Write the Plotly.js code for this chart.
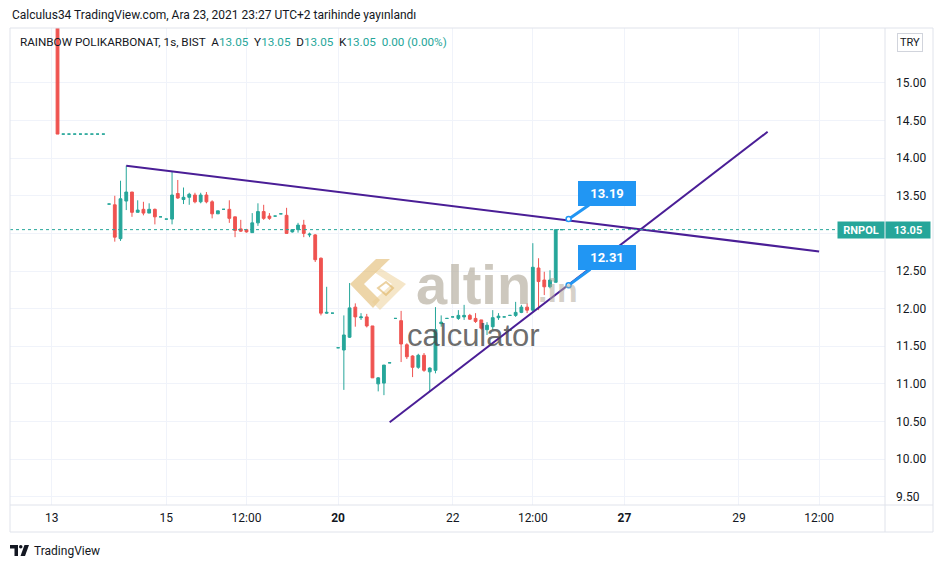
<!DOCTYPE html>
<html><head><meta charset="utf-8">
<script src="https://cdn.plot.ly/plotly-3.0.1.min.js"></script>
<style>html,body{margin:0;padding:0;background:#fff;}#chart{width:945px;height:568px;}</style>
</head><body><div id="chart"></div>
<script>
// ---- data (hourly bars, index = bar number, 10 bars per trading day) ----
const barOpen  = [null,15.91,14.32,14.32,14.32,14.32,14.32,14.32,14.32,14.32,
  13.39,13.38,12.93,13.43,13.55,13.28,13.32,13.27,13.32,13.22,
  13.19,13.19,13.53,13.45,13.48,13.51,13.42,13.51,13.42,13.26,
  13.32,13.32,13.22,13.06,13.05,13.01,13.14,13.29,13.23,13.23,
  13.26,13.24,13.02,13.05,13.11,12.98,12.98,12.67,11.94,11.94,
  11.48,11.45,11.62,12.02,11.88,11.89,11.77,11.00,11.01,11.28,
  11.87,11.84,11.52,11.37,11.22,11.38,11.16,11.18,11.80,11.87,
  11.89,11.87,11.89,11.91,11.87,11.85,11.72,11.76,11.88,11.89,
  11.91,11.91,11.95,12.02,11.98,12.54,12.38,12.29,12.35,13.05];
const barHigh  = [null,15.91,14.32,14.32,14.32,14.32,14.32,14.32,14.32,14.32,
  13.39,13.50,13.70,13.90,13.55,13.44,13.42,13.40,13.33,13.22,
  13.19,13.82,13.71,13.61,13.54,13.54,13.54,13.55,13.44,13.30,
  13.32,13.44,13.22,13.18,13.06,13.27,13.40,13.38,13.27,13.23,
  13.26,13.34,13.05,13.14,13.18,13.01,12.99,12.68,12.29,11.94,
  11.48,11.91,12.34,12.07,11.94,11.93,11.77,11.09,11.25,11.28,
  11.87,11.97,11.54,11.38,11.40,11.41,11.22,12.02,11.91,11.87,
  11.89,11.98,12.05,11.93,11.94,11.85,11.82,11.98,11.94,11.89,
  11.91,12.09,12.05,12.07,12.87,12.67,12.49,12.51,13.05,13.05];
const barLow   = [null,14.32,14.32,14.32,14.32,14.32,14.32,14.32,14.32,14.32,
  13.39,12.89,12.90,13.31,13.22,13.28,13.24,13.27,13.12,13.22,
  13.19,13.12,13.46,13.39,13.38,13.40,13.40,13.40,13.20,13.26,
  13.32,13.14,12.95,13.02,13.01,13.01,13.10,13.18,13.18,13.23,
  13.26,13.00,13.01,13.01,12.95,12.95,12.62,11.91,11.93,11.94,
  11.48,10.92,11.61,11.76,11.85,11.75,11.08,10.90,10.85,11.28,
  11.87,11.29,11.33,11.09,11.20,11.16,10.90,11.14,11.76,11.87,
  11.89,11.85,11.85,11.85,11.81,11.72,11.65,11.72,11.85,11.89,
  11.91,11.89,11.94,11.94,11.95,11.98,12.18,12.27,12.35,13.05];
const barClose = [null,14.32,14.32,14.32,14.32,14.32,14.32,14.32,14.32,14.32,
  13.39,12.95,13.46,13.55,13.28,13.31,13.27,13.32,13.22,13.22,
  13.19,13.51,13.47,13.48,13.52,13.42,13.51,13.42,13.26,13.30,
  13.32,13.20,13.04,13.03,13.02,13.14,13.29,13.20,13.20,13.23,
  13.26,13.00,13.05,13.11,13.00,12.99,12.65,11.94,11.95,11.94,
  11.48,11.65,12.01,11.89,11.89,11.77,11.08,11.08,11.25,11.28,
  11.87,11.53,11.36,11.22,11.38,11.18,11.21,11.72,11.82,11.87,
  11.89,11.91,11.91,11.86,11.83,11.74,11.78,11.88,11.90,11.89,
  11.91,11.95,12.02,11.98,12.55,12.36,12.29,12.38,13.05,13.05];
const tickPositions = [0,20,34,50,70,84,100,120,134];
const tickLabels = ['13','15','12:00','<b>20</b>','22','12:00','<b>27</b>','29','12:00'];
const priceTicks = [9.5,10,10.5,11,11.5,12,12.5,13,13.5,14,14.5,15];
const resistanceX = [13,134], resistanceY = [13.90,12.76];
const supportX = [59,125], supportY = [10.49,14.35];
const calloutX = 90.25;
const calloutValues = [13.19,12.31];
const lastPrice = 13.05;
const symbol = 'RNPOL';

// ---- layout helpers (pixel -> paper) ----
const PL=10, PR=885, PT=28, PB=505;
const fx = p => (p-PL)/(PR-PL);
const fy = p => (PB-p)/(PB-PT);
const FONT = 'Trebuchet MS, Roboto, sans-serif';
const GREEN='#26a69a', RED='#ef5350', PURPLE='#4a1e96', BLUE='#2196f3';

const barIdx = barOpen.map((_,i)=>i);
function candleTrace(isUp, color){
  const keep = barIdx.filter(i => barOpen[i] !== null && ((barClose[i] >= barOpen[i]) === isUp));
  return {type:'candlestick', x:keep, open:keep.map(i=>barOpen[i]), high:keep.map(i=>barHigh[i]),
    low:keep.map(i=>barLow[i]), close:keep.map(i=>barClose[i]),
    increasing:{line:{color:color,width:1},fillcolor:color},
    decreasing:{line:{color:color,width:1},fillcolor:color},
    whiskerwidth:0, hoverinfo:'skip', showlegend:false};
}
const traces = [
 candleTrace(true, GREEN),
 candleTrace(false, RED),
 {type:'scatter', mode:'lines', x:resistanceX, y:resistanceY, line:{color:PURPLE,width:2}, hoverinfo:'skip', showlegend:false},
 {type:'scatter', mode:'lines', x:supportX, y:supportY, line:{color:PURPLE,width:2}, hoverinfo:'skip', showlegend:false},
 {type:'scatter', mode:'markers', x:calloutValues.map(()=>calloutX), y:calloutValues,
  marker:{size:5,color:'#ffffff',line:{color:BLUE,width:1.5}}, hoverinfo:'skip', showlegend:false}
];

const P = (x,y)=>fx(x).toFixed(5)+','+fy(y).toFixed(5);
const shapes = [
 {type:'line', xref:'paper', yref:'y', x0:0, x1:1, y0:lastPrice, y1:lastPrice, line:{color:GREEN,width:1,dash:'dot'}},
 // frame
 {type:'rect', xref:'paper', yref:'paper', x0:fx(10), x1:fx(933), y0:fy(28), y1:fy(532), line:{color:'#e0e3eb',width:1}},
 {type:'line', xref:'paper', yref:'paper', x0:1, x1:1, y0:fy(28), y1:fy(532), line:{color:'#e0e3eb',width:1}},
 {type:'line', xref:'paper', yref:'paper', x0:0, x1:fx(933), y0:0, y1:0, line:{color:'#e0e3eb',width:1}},
 // watermark logo
 {type:'path', xref:'paper', yref:'paper', path:'M'+P(350,284)+'L'+P(376,259)+'L'+P(390,259)+'L'+P(364,284)+'L'+P(380,300)+'L'+P(373,308)+'Z',
  fillcolor:'rgba(222,178,96,0.55)', line:{width:0}},
 {type:'path', xref:'paper', yref:'paper', path:'M'+P(380,268)+'L'+P(406,284)+'L'+P(380,310)+'L'+P(372,302)+'L'+P(392,284)+'L'+P(374,272)+'Z',
  fillcolor:'rgba(236,206,146,0.5)', line:{width:0}},
 {type:'path', xref:'paper', yref:'paper', path:'M'+P(378,288)+'L'+P(386,282)+'L'+P(393,288)+'L'+P(386,295)+'Z',
  fillcolor:'rgba(255,255,255,0)', line:{color:'rgba(222,178,96,0.6)',width:2}},
 // TradingView logo
 {type:'path', xref:'paper', yref:'paper', path:'M'+P(10,545)+'L'+P(18,545)+'L'+P(18,556)+'L'+P(14.5,556)+'L'+P(14.5,548.5)+'L'+P(10,548.5)+'Z', fillcolor:'#131722', line:{width:0}},
 {type:'circle', xref:'paper', yref:'paper', x0:fx(19), x1:fx(22.5), y0:fy(548.5), y1:fy(545), fillcolor:'#131722', line:{width:0}},
 {type:'path', xref:'paper', yref:'paper', path:'M'+P(24.5,545)+'L'+P(29,545)+'L'+P(25,556)+'L'+P(20.5,556)+'Z', fillcolor:'#131722', line:{width:0}}
];

const ann = [
 {xref:'paper', yref:'paper', x:fx(10), y:fy(15), xanchor:'left', yanchor:'middle', showarrow:false,
  text:'Calculus34 TradingView.com, Ara 23, 2021 23:27 UTC+2 tarihinde yayınlandı', font:{family:FONT,size:12,color:'#131722'}},
 {xref:'paper', yref:'paper', x:fx(18), y:fy(42), xanchor:'left', yanchor:'middle', showarrow:false,
  text:'RAINBOW POLIKARBONAT, 1s, BIST  A<span style="color:'+GREEN+'">13.05</span>  Y<span style="color:'+GREEN+'">13.05</span>  D<span style="color:'+GREEN+'">13.05</span>  K<span style="color:'+GREEN+'">13.05</span>  <span style="color:'+GREEN+'">0.00 (0.00%)</span>',
  font:{family:FONT,size:11.7,color:'#131722'}},
 {xref:'paper', yref:'paper', x:fx(910), y:fy(42.5), xanchor:'center', yanchor:'middle', showarrow:false,
  text:'TRY', font:{family:FONT,size:11,color:'#131722'}, bordercolor:'#d1d4dc', borderwidth:1, borderpad:2, bgcolor:'#fff'},
 {xref:'paper', yref:'y', x:fx(861), y:lastPrice, xanchor:'center', yanchor:'middle', showarrow:false,
  text:'<b>'+symbol+'</b>', font:{family:FONT,size:11,color:'#fff'}, bgcolor:GREEN, width:44, height:14, borderpad:1},
 {xref:'paper', yref:'y', x:fx(908), y:lastPrice, xanchor:'center', yanchor:'middle', showarrow:false,
  text:'<b>'+lastPrice.toFixed(2)+'</b>', font:{family:FONT,size:11,color:'#fff'}, bgcolor:GREEN, width:42, height:14, borderpad:1},
 // watermark text
 {xref:'paper', yref:'paper', x:fx(414), y:fy(284), xanchor:'left', yanchor:'middle', showarrow:false,
  text:'<b>altin</b>', font:{family:'Liberation Sans, Arial, sans-serif',size:56,color:'rgba(178,170,155,0.65)'}},
 {xref:'paper', yref:'paper', x:fx(536), y:fy(290), xanchor:'left', yanchor:'middle', showarrow:false,
  text:'<b>.in</b>', font:{family:'Liberation Sans, Arial, sans-serif',size:34,color:'rgba(178,170,155,0.55)'}},
 {xref:'paper', yref:'paper', x:fx(405), y:fy(336), xanchor:'left', yanchor:'middle', showarrow:false,
  text:'calculator', font:{family:'Liberation Sans, Arial, sans-serif',size:31,color:'rgba(70,70,70,0.8)'}},
 // footer
 {xref:'paper', yref:'paper', x:fx(32), y:fy(550.5), xanchor:'left', yanchor:'middle', showarrow:false,
  text:'TradingView', font:{family:FONT,size:12,color:'#131722'}}
];
const offsets = [[38,-26],[38,-28]];
calloutValues.forEach((v,i)=>{
  ann.push({x:calloutX, y:v, xref:'x', yref:'y', ax:offsets[i][0], ay:offsets[i][1], axref:'pixel', ayref:'pixel',
    text:'<b>'+v.toFixed(2)+'</b>', showarrow:true, arrowhead:0, arrowwidth:3, arrowcolor:BLUE, standoff:2,
    font:{family:FONT,size:13,color:'#fff'}, bgcolor:BLUE, bordercolor:BLUE, borderwidth:1, borderpad:3, width:50, height:17});
});

const layout = {
  width:945, height:568, margin:{l:PL, r:945-PR, t:PT, b:568-PB},
  paper_bgcolor:'#fff', plot_bgcolor:'#fff', showlegend:false, dragmode:false, boxmode:'overlay',
  font:{family:FONT,size:12,color:'#131722'},
  xaxis:{range:[-7.3,145.5], tickmode:'array', tickvals:tickPositions, ticktext:tickLabels,
    showgrid:true, gridcolor:'#f0f3fa', zeroline:false, showline:false, ticks:'', ticklabelstandoff:4,
    rangeslider:{visible:false}, fixedrange:true, tickfont:{family:FONT,size:12,color:'#131722'}},
  yaxis:{range:[9.39,15.73], side:'right', tickmode:'array', tickvals:priceTicks,
    ticktext:priceTicks.map(v=>Math.abs(v-13)<1e-9 ? '' : v.toFixed(2)),
    showgrid:true, gridcolor:'#f0f3fa', zeroline:false, showline:false, ticks:'', ticklabelstandoff:10,
    fixedrange:true, tickfont:{family:FONT,size:12,color:'#131722'}},
  shapes:shapes, annotations:ann
};
Plotly.newPlot('chart', traces, layout, {displayModeBar:false, staticPlot:true});
</script></body></html>
